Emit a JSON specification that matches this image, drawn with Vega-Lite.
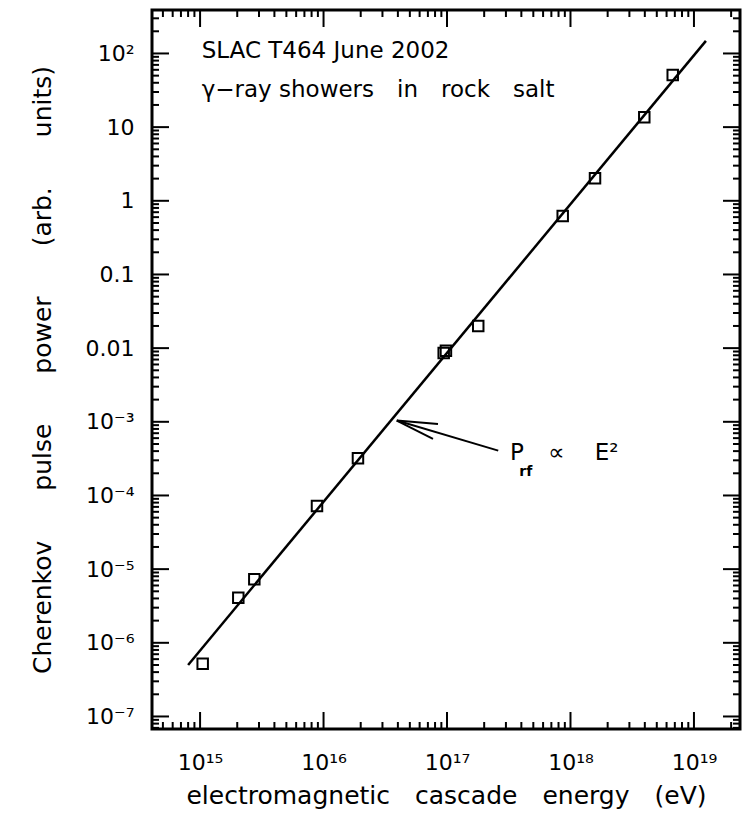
{
  "$schema": "https://vega.github.io/schema/vega-lite/v6.json",
  "width": 588,
  "height": 719,
  "autosize": {"type": "none"},
  "padding": {"left": 152, "top": 10, "right": 5, "bottom": 85},
  "background": "white",
  "config": {
    "view": {"stroke": "black", "strokeWidth": 3},
    "font": "DejaVu Sans",
    "axis": {
      "domain": false, "ticks": false,
      "grid": false, "labelColor": "black", "titleColor": "black",
      "labelFont": "DejaVu Sans", "titleFont": "DejaVu Sans", "labelFontSize": 22, "titleFontSize": 25,
      "titleFontWeight": "normal", "labelFlush": false, "labelOverlap": false
    }
  },
  "datasets": {
    "points": [
      {"energy": 1.05e15, "power": 5.2e-7},
      {"energy": 2.04e15, "power": 4.1e-6},
      {"energy": 2.75e15, "power": 7.3e-6},
      {"energy": 8.85e15, "power": 7.2e-5},
      {"energy": 1.9e16, "power": 3.2e-4},
      {"energy": 9.4e16, "power": 8.6e-3},
      {"energy": 9.8e16, "power": 9.2e-3},
      {"energy": 1.79e17, "power": 0.02},
      {"energy": 8.65e17, "power": 0.62},
      {"energy": 1.58e18, "power": 2.02},
      {"energy": 3.96e18, "power": 13.6},
      {"energy": 6.73e18, "power": 51}
    ],
    "fit": [
      {"energy": 8.0e14, "power": 5.0e-7},
      {"energy": 1.25e19, "power": 148}
    ],
    "arrow": [
      {"x": 2.6e17, "y": 4.06e-4, "x2": 3.92e16, "y2": 1.04e-3},
      {"x": 8.45e16, "y": 9.35e-4, "x2": 3.92e16, "y2": 1.04e-3},
      {"x": 7.7e16, "y": 5.85e-4, "x2": 3.92e16, "y2": 1.04e-3}
    ],
    "xticks": [
      {"value": 5e14, "kind": "minor"}, {"value": 6e14, "kind": "minor"}, {"value": 7e14, "kind": "minor"}, {"value": 8e14, "kind": "minor"}, {"value": 9e14, "kind": "minor"},
      {"value": 1e15, "kind": "major"},
      {"value": 2e15, "kind": "minor"}, {"value": 3e15, "kind": "minor"}, {"value": 4e15, "kind": "minor"}, {"value": 5e15, "kind": "minor"}, {"value": 6e15, "kind": "minor"}, {"value": 7e15, "kind": "minor"}, {"value": 8e15, "kind": "minor"}, {"value": 9e15, "kind": "minor"},
      {"value": 1e16, "kind": "major"},
      {"value": 2e16, "kind": "minor"}, {"value": 3e16, "kind": "minor"}, {"value": 4e16, "kind": "minor"}, {"value": 5e16, "kind": "minor"}, {"value": 6e16, "kind": "minor"}, {"value": 7e16, "kind": "minor"}, {"value": 8e16, "kind": "minor"}, {"value": 9e16, "kind": "minor"},
      {"value": 1e17, "kind": "major"},
      {"value": 2e17, "kind": "minor"}, {"value": 3e17, "kind": "minor"}, {"value": 4e17, "kind": "minor"}, {"value": 5e17, "kind": "minor"}, {"value": 6e17, "kind": "minor"}, {"value": 7e17, "kind": "minor"}, {"value": 8e17, "kind": "minor"}, {"value": 9e17, "kind": "minor"},
      {"value": 1e18, "kind": "major"},
      {"value": 2e18, "kind": "minor"}, {"value": 3e18, "kind": "minor"}, {"value": 4e18, "kind": "minor"}, {"value": 5e18, "kind": "minor"}, {"value": 6e18, "kind": "minor"}, {"value": 7e18, "kind": "minor"}, {"value": 8e18, "kind": "minor"}, {"value": 9e18, "kind": "minor"},
      {"value": 1e19, "kind": "major"},
      {"value": 2e19, "kind": "minor"}
    ],
    "yticks": [
      {"value": 7e-8, "kind": "minor"}, {"value": 8e-8, "kind": "minor"}, {"value": 9e-8, "kind": "minor"},
      {"value": 1e-7, "kind": "major"},
      {"value": 2e-7, "kind": "minor"}, {"value": 3e-7, "kind": "minor"}, {"value": 4e-7, "kind": "minor"}, {"value": 5e-7, "kind": "minor"}, {"value": 6e-7, "kind": "minor"}, {"value": 7e-7, "kind": "minor"}, {"value": 8e-7, "kind": "minor"}, {"value": 9e-7, "kind": "minor"},
      {"value": 1e-6, "kind": "major"},
      {"value": 2e-6, "kind": "minor"}, {"value": 3e-6, "kind": "minor"}, {"value": 4e-6, "kind": "minor"}, {"value": 5e-6, "kind": "minor"}, {"value": 6e-6, "kind": "minor"}, {"value": 7e-6, "kind": "minor"}, {"value": 8e-6, "kind": "minor"}, {"value": 9e-6, "kind": "minor"},
      {"value": 1e-5, "kind": "major"},
      {"value": 2e-5, "kind": "minor"}, {"value": 3e-5, "kind": "minor"}, {"value": 4e-5, "kind": "minor"}, {"value": 5e-5, "kind": "minor"}, {"value": 6e-5, "kind": "minor"}, {"value": 7e-5, "kind": "minor"}, {"value": 8e-5, "kind": "minor"}, {"value": 9e-5, "kind": "minor"},
      {"value": 1e-4, "kind": "major"},
      {"value": 2e-4, "kind": "minor"}, {"value": 3e-4, "kind": "minor"}, {"value": 4e-4, "kind": "minor"}, {"value": 5e-4, "kind": "minor"}, {"value": 6e-4, "kind": "minor"}, {"value": 7e-4, "kind": "minor"}, {"value": 8e-4, "kind": "minor"}, {"value": 9e-4, "kind": "minor"},
      {"value": 1e-3, "kind": "major"},
      {"value": 2e-3, "kind": "minor"}, {"value": 3e-3, "kind": "minor"}, {"value": 4e-3, "kind": "minor"}, {"value": 5e-3, "kind": "minor"}, {"value": 6e-3, "kind": "minor"}, {"value": 7e-3, "kind": "minor"}, {"value": 8e-3, "kind": "minor"}, {"value": 9e-3, "kind": "minor"},
      {"value": 0.01, "kind": "major"},
      {"value": 0.02, "kind": "minor"}, {"value": 0.03, "kind": "minor"}, {"value": 0.04, "kind": "minor"}, {"value": 0.05, "kind": "minor"}, {"value": 0.06, "kind": "minor"}, {"value": 0.07, "kind": "minor"}, {"value": 0.08, "kind": "minor"}, {"value": 0.09, "kind": "minor"},
      {"value": 0.1, "kind": "major"},
      {"value": 0.2, "kind": "minor"}, {"value": 0.3, "kind": "minor"}, {"value": 0.4, "kind": "minor"}, {"value": 0.5, "kind": "minor"}, {"value": 0.6, "kind": "minor"}, {"value": 0.7, "kind": "minor"}, {"value": 0.8, "kind": "minor"}, {"value": 0.9, "kind": "minor"},
      {"value": 1, "kind": "major"},
      {"value": 2, "kind": "minor"}, {"value": 3, "kind": "minor"}, {"value": 4, "kind": "minor"}, {"value": 5, "kind": "minor"}, {"value": 6, "kind": "minor"}, {"value": 7, "kind": "minor"}, {"value": 8, "kind": "minor"}, {"value": 9, "kind": "minor"},
      {"value": 10, "kind": "major"},
      {"value": 20, "kind": "minor"}, {"value": 30, "kind": "minor"}, {"value": 40, "kind": "minor"}, {"value": 50, "kind": "minor"}, {"value": 60, "kind": "minor"}, {"value": 70, "kind": "minor"}, {"value": 80, "kind": "minor"}, {"value": 90, "kind": "minor"},
      {"value": 100, "kind": "major"},
      {"value": 200, "kind": "minor"}, {"value": 300, "kind": "minor"}
    ],
    "header": [
      {"energy": 1.03e15, "power": 87, "text": "SLAC T464 June 2002"},
      {"energy": 1.03e15, "power": 25.7, "text": "γ−ray showers\u2003in\u2003rock\u2003salt"}
    ],
    "formula": [
      {"energy": 3.24e17, "power": 3.03e-4, "text": "P"},
      {"energy": 6.58e17, "power": 3.03e-4, "text": "∝ \u2003E²"}
    ],
    "sub": [
      {"energy": 3.85e17, "power": 1.84e-4, "text": "rf"}
    ]
  },
  "layer": [
    {
      "data": {"name": "fit"},
      "mark": {"type": "line", "color": "black", "strokeWidth": 2.5},
      "encoding": {
        "x": {"field": "energy", "type": "quantitative",
          "scale": {"type": "log", "domain": [4.08e14, 2.36e19], "nice": false},
          "axis": {"orient": "bottom", "values": [1e15, 1e16, 1e17, 1e18, 1e19], "labelPadding": 23,
            "labelExpr": "datum.value < 3e15 ? '10¹⁵' : datum.value < 3e16 ? '10¹⁶' : datum.value < 3e17 ? '10¹⁷' : datum.value < 3e18 ? '10¹⁸' : '10¹⁹'",
            "title": "electromagnetic\u2003cascade\u2003energy\u2003(eV)", "titlePadding": 10}},
        "y": {"field": "power", "type": "quantitative",
          "scale": {"type": "log", "domain": [6.76e-8, 389], "nice": false},
          "axis": {"orient": "left", "values": [1e-7, 1e-6, 1e-5, 1e-4, 1e-3, 0.01, 0.1, 1, 10, 100], "labelPadding": 18,
            "labelExpr": "datum.value < 3e-7 ? '10⁻⁷' : datum.value < 3e-6 ? '10⁻⁶' : datum.value < 3e-5 ? '10⁻⁵' : datum.value < 3e-4 ? '10⁻⁴' : datum.value < 3e-3 ? '10⁻³' : datum.value < 0.03 ? '0.01' : datum.value < 0.3 ? '0.1' : datum.value < 3 ? '1' : datum.value < 30 ? '10' : '10²'",
            "title": "Cherenkov\u2003\u2003pulse\u2003\u2003power\u2003\u2003(arb.\u2003\u2003units)", "titlePadding": 30}}
      }
    },
    {
      "data": {"name": "xticks"},
      "mark": {"type": "point", "shape": "M0,0L0,-2", "filled": false, "color": "black", "strokeWidth": 2, "opacity": 1},
      "encoding": {
        "x": {"field": "value", "type": "quantitative", "axis": null},
        "y": {"datum": 6.76e-8, "type": "quantitative", "axis": null},
        "size": {"field": "kind", "type": "nominal", "scale": {"domain": ["major", "minor"], "range": [289, 49]}, "legend": null}
      }
    },
    {
      "data": {"name": "xticks"},
      "mark": {"type": "point", "shape": "M0,0L0,2", "filled": false, "color": "black", "strokeWidth": 2, "opacity": 1},
      "encoding": {
        "x": {"field": "value", "type": "quantitative", "axis": null},
        "y": {"datum": 389, "type": "quantitative", "axis": null},
        "size": {"field": "kind", "type": "nominal", "scale": {"domain": ["major", "minor"], "range": [289, 49]}, "legend": null}
      }
    },
    {
      "data": {"name": "yticks"},
      "mark": {"type": "point", "shape": "M0,0L2,0", "filled": false, "color": "black", "strokeWidth": 2, "opacity": 1},
      "encoding": {
        "y": {"field": "value", "type": "quantitative", "axis": null},
        "x": {"datum": 4.08e14, "type": "quantitative", "axis": null},
        "size": {"field": "kind", "type": "nominal", "scale": {"domain": ["major", "minor"], "range": [289, 49]}, "legend": null}
      }
    },
    {
      "data": {"name": "yticks"},
      "mark": {"type": "point", "shape": "M0,0L-2,0", "filled": false, "color": "black", "strokeWidth": 2, "opacity": 1},
      "encoding": {
        "y": {"field": "value", "type": "quantitative", "axis": null},
        "x": {"datum": 2.36e19, "type": "quantitative", "axis": null},
        "size": {"field": "kind", "type": "nominal", "scale": {"domain": ["major", "minor"], "range": [289, 49]}, "legend": null}
      }
    },
    {
      "data": {"name": "points"},
      "mark": {"type": "point", "shape": "square", "filled": false, "color": "black", "strokeWidth": 2, "size": 110, "opacity": 1},
      "encoding": {
        "x": {"field": "energy", "type": "quantitative", "axis": null},
        "y": {"field": "power", "type": "quantitative", "axis": null}
      }
    },
    {
      "data": {"name": "arrow"},
      "mark": {"type": "rule", "color": "black", "strokeWidth": 2},
      "encoding": {
        "x": {"field": "x", "type": "quantitative", "axis": null},
        "y": {"field": "y", "type": "quantitative", "axis": null},
        "x2": {"field": "x2"},
        "y2": {"field": "y2"}
      }
    },
    {
      "data": {"name": "header"},
      "mark": {"type": "text", "align": "left", "baseline": "alphabetic", "fontSize": 23, "color": "black", "font": "DejaVu Sans"},
      "encoding": {
        "x": {"field": "energy", "type": "quantitative", "axis": null},
        "y": {"field": "power", "type": "quantitative", "axis": null},
        "text": {"field": "text"}
      }
    },
    {
      "data": {"name": "formula"},
      "mark": {"type": "text", "align": "left", "baseline": "alphabetic", "fontSize": 23, "color": "black", "font": "DejaVu Sans"},
      "encoding": {
        "x": {"field": "energy", "type": "quantitative", "axis": null},
        "y": {"field": "power", "type": "quantitative", "axis": null},
        "text": {"field": "text"}
      }
    },
    {
      "data": {"name": "sub"},
      "mark": {"type": "text", "align": "left", "baseline": "alphabetic", "fontSize": 14, "fontWeight": "bold", "color": "black", "font": "DejaVu Sans"},
      "encoding": {
        "x": {"field": "energy", "type": "quantitative", "axis": null},
        "y": {"field": "power", "type": "quantitative", "axis": null},
        "text": {"field": "text"}
      }
    }
  ],
  "resolve": {"axis": {"x": "independent", "y": "independent"}}
}
